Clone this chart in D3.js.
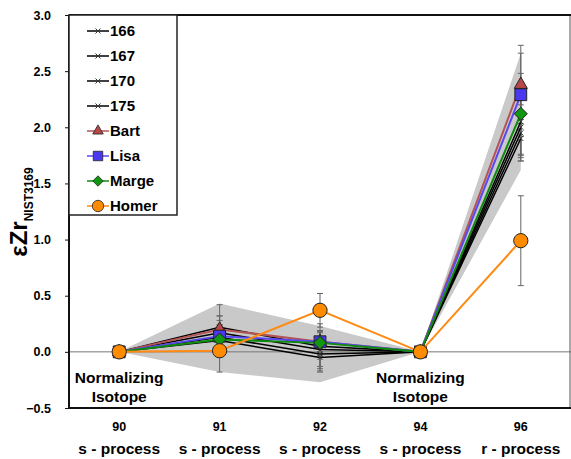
<!doctype html>
<html lang="en">
<head>
<meta charset="utf-8">
<title>eZr NIST3169</title>
<script src="https://d3js.org/d3.v7.min.js"></script>
<style>
  body { margin: 0; background: #fff; }
  svg text { font-family: "Liberation Sans", Arial, Helvetica, sans-serif; font-weight: bold; fill: #000; }
</style>
</head>
<body>
<svg width="571" height="459"></svg>
<script>
// isotopes and their process
var isotopes = ["90", "91", "92", "94", "96"];
var processes = ["s - process", "s - process", "s - process", "s - process", "r - process"];
var yTicks = [-0.5, 0.0, 0.5, 1.0, 1.5, 2.0, 2.5, 3.0];

// series values
var s166 = [0, 0.22, 0.05, 0, 2.05];
var s167 = [0, 0.17, 0.02, 0, 2.00];
var s170 = [0, 0.13, -0.02, 0, 1.95];
var s175 = [0, 0.10, -0.05, 0, 1.90];
var bart = [0, 0.20, 0.09, 0, 2.38];
var lisa = [0, 0.14, 0.09, 0, 2.29];
var marge = [0, 0.11, 0.08, 0, 2.12];
var homer = [0, 0.01, 0.37, 0, 0.99];

// error bars
var e166 = [0, 0.20, 0.20, 0, 0.30];
var e167 = [0, 0.15, 0.15, 0, 0.30];
var e170 = [0, 0.15, 0.15, 0, 0.25];
var e175 = [0, 0.12, 0.13, 0, 0.17];
var eBart = [0, 0.12, 0.10, 0, 0.35];
var eLisa = [0, 0.10, 0.10, 0, 0.37];
var eMarge = [0, 0.10, 0.10, 0, 0.36];
var eHomer = [0, 0.19, 0.15, 0, 0.40];

// grey envelope
var bandHi = [0, 0.43, 0.23, 0, 2.66];
var bandLo = [0, -0.18, -0.27, 0, 1.62];

var series = [
  { name: "166", v: s166, e: e166, color: "#000", sym: "x" },
  { name: "167", v: s167, e: e167, color: "#000", sym: "x" },
  { name: "170", v: s170, e: e170, color: "#000", sym: "x" },
  { name: "175", v: s175, e: e175, color: "#000", sym: "x" },
  { name: "Bart", v: bart, e: eBart, color: "#b35555", fill: "#b84848", sym: "tri" },
  { name: "Lisa", v: lisa, e: eLisa, color: "#5a48f0", fill: "#4a38f0", sym: "sq" },
  { name: "Marge", v: marge, e: eMarge, color: "#0f8a0f", fill: "#119611", sym: "dia" },
  { name: "Homer", v: homer, e: eHomer, color: "#ff8a14", fill: "#ff8c00", sym: "circ" }
];

var svg = d3.select("svg");
var pL = 69, pR = 571, pT = 15, pB = 408;

var x = d3.scaleBand().domain(isotopes).range([pL, pR]);
var y = d3.scaleLinear().domain([-0.5, 3.0]).range([pB, pT]);
var cx = function (i) { return x(isotopes[i]) + x.bandwidth() / 2; };

// envelope
var area = d3.area()
  .x(function (d, i) { return cx(i); })
  .y0(function (d, i) { return y(bandLo[i]); })
  .y1(function (d) { return y(d); });
svg.append("path").datum(bandHi).attr("d", area).attr("fill", "#c9c9c9");

// zero line
svg.append("line").attr("x1", pL).attr("x2", pR).attr("y1", y(0)).attr("y2", y(0))
  .attr("stroke", "#777").attr("stroke-width", 1);

// error bars
series.forEach(function (s) {
  var g = svg.append("g").attr("stroke", "#666").attr("stroke-width", 1);
  s.v.forEach(function (v, i) {
    if (!s.e[i]) return;
    var xx = cx(i);
    g.append("line").attr("x1", xx).attr("x2", xx).attr("y1", y(v - s.e[i])).attr("y2", y(v + s.e[i]));
    [v - s.e[i], v + s.e[i]].forEach(function (c) {
      g.append("line").attr("x1", xx - 3).attr("x2", xx + 3).attr("y1", y(c)).attr("y2", y(c));
    });
  });
});

var line = d3.line().x(function (d, i) { return cx(i); }).y(function (d) { return y(d); });

function marker(g, s, px, py) {
  if (s.sym === "x") {
    g.append("path").attr("d", "M" + (px - 2.5) + "," + (py - 2.5) + "L" + (px + 2.5) + "," + (py + 2.5) +
      "M" + (px - 2.5) + "," + (py + 2.5) + "L" + (px + 2.5) + "," + (py - 2.5))
      .attr("stroke", "#333").attr("stroke-width", 1);
    return;
  }
  var p;
  if (s.sym === "tri") p = d3.symbol(d3.symbolTriangle, 75)();
  if (s.sym === "sq") p = d3.symbol(d3.symbolSquare, 140)();
  if (s.sym === "dia") p = "M0,-6.5L6.5,0L0,6.5L-6.5,0Z";
  if (s.sym === "circ") p = d3.symbol(d3.symbolCircle, 160)();
  g.append("path").attr("d", p).attr("transform", "translate(" + px + "," + py + ")")
    .attr("fill", s.fill).attr("stroke", "#222").attr("stroke-width", 1);
}

series.forEach(function (s) {
  var g = svg.append("g");
  g.append("path").datum(s.v).attr("d", line).attr("fill", "none")
    .attr("stroke", s.color).attr("stroke-width", s.sym === "x" ? 1.5 : 2);
  s.v.forEach(function (v, i) { marker(g, s, cx(i), y(v)); });
});

// frame
svg.append("rect").attr("x", pL).attr("y", pT).attr("width", pR - pL - 1).attr("height", pB - pT)
  .attr("fill", "none").attr("stroke", "#555").attr("stroke-width", 1);
svg.append("path").attr("d", "M" + pL + "," + pT + "H" + pR + "M" + pL + "," + pT + "V" + pB + "H" + pR)
  .attr("fill", "none").attr("stroke", "#111").attr("stroke-width", 2);

// y axis ticks
var yAxis = svg.append("g").attr("transform", "translate(" + pL + ",0)")
  .call(d3.axisLeft(y).tickValues(yTicks).tickFormat(d3.format(".1f")).tickSize(4).tickPadding(14));
yAxis.select(".domain").remove();
yAxis.selectAll("line").attr("stroke", "#111");
yAxis.selectAll("text").attr("font-size", 12.5);

// x labels
var xl = svg.append("g");
isotopes.forEach(function (d, i) {
  xl.append("text").attr("x", cx(i)).attr("y", 431).attr("text-anchor", "middle").attr("font-size", 12.5).text(d);
  xl.append("text").attr("x", cx(i)).attr("y", 454).attr("text-anchor", "middle").attr("font-size", 15.5).text(processes[i]);
});

// normalizing labels
[0, 3].forEach(function (i) {
  var t = svg.append("text").attr("text-anchor", "middle").attr("font-size", 15.5);
  t.append("tspan").attr("x", cx(i)).attr("y", 383).text("Normalizing");
  t.append("tspan").attr("x", cx(i)).attr("y", 402).text("Isotope");
});

// y title
var yt = svg.append("text").attr("transform", "translate(27,212) rotate(-90)").attr("text-anchor", "middle");
yt.append("tspan").attr("font-size", 24).text("\u03b5Zr");
yt.append("tspan").attr("font-size", 12).attr("dy", 6).text("NIST3169");

// legend
var lg = svg.append("g");
lg.append("rect").attr("x", pL).attr("y", pT).attr("width", 108).attr("height", 200)
  .attr("fill", "#fff").attr("stroke", "#222").attr("stroke-width", 1.5);
series.forEach(function (s, i) {
  var ly = 31 + i * 25;
  lg.append("line").attr("x1", 87).attr("x2", 109).attr("y1", ly).attr("y2", ly)
    .attr("stroke", s.color).attr("stroke-width", 1.5);
  var m = lg.append("g");
  if (s.sym === "x") marker(m, s, 98, ly);
  else { marker(m, s, 0, 0); m.attr("transform", "translate(98," + ly + ") scale(0.8)"); }
  lg.append("text").attr("x", 110).attr("y", ly + 5).attr("font-size", 15).text(s.name);
});
</script>
</body>
</html>
